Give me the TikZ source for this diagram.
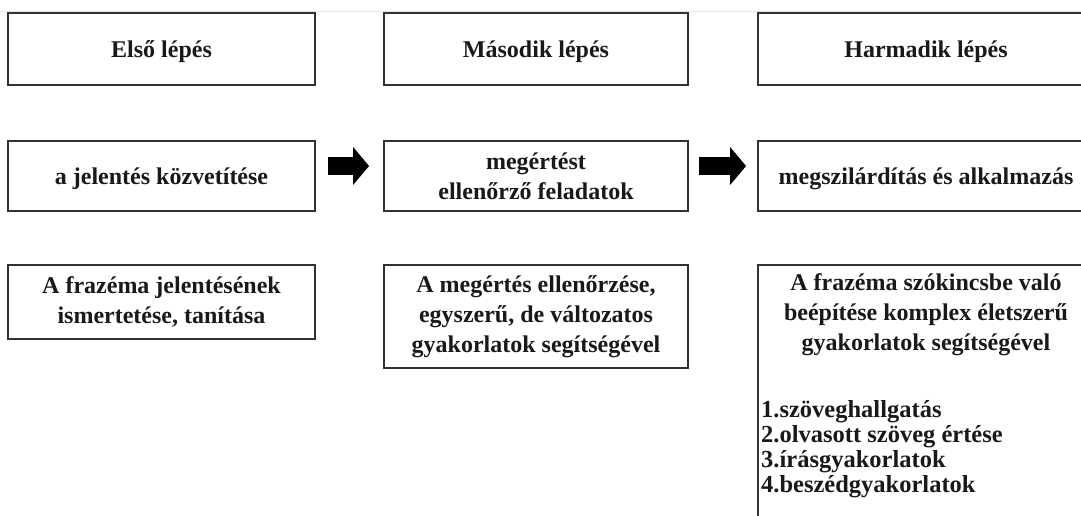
\documentclass[tikz,border=0pt]{standalone}
\usepackage{fontspec}
\setmainfont{Liberation Serif}
\usetikzlibrary{arrows.meta}

\begin{document}
\begin{tikzpicture}[x=1pt, y=-1pt,
    box/.style={draw=black!80, line width=1.8pt, align=center, inner xsep=6pt, inner ysep=6pt,
        text=black!90, font=\bfseries\fontsize{24}{30}\selectfont},
    item/.style={inner sep=0pt, text=black!90, font=\bfseries\fontsize{24.5}{25}\selectfont},
    blockarrow/.style={line width=18pt, -{Triangle[length=16pt, width=37pt]}}]
    \clip (0,0) rectangle (1081,516);
    \fill[white] (0,0) rectangle (1081,516);
    \draw[black!10, line width=1pt] (0,12) -- (1081,12);

    % steps
    \node[box, minimum width=307, minimum height=72, text depth=0pt] (s1) at (161.5,49) {Első lépés};
    \node[box, minimum width=304, minimum height=72, text depth=0pt] (s2) at (536,49) {Második lépés};
    \node[box, minimum width=336, minimum height=72, text depth=0pt] (s3) at (926,49) {Harmadik lépés};

    % what happens in each step
    \node[box, minimum width=307, minimum height=70, text depth=0pt] (m1) at (161.5,176) {a jelentés közvetítése};
    \node[box, minimum width=304, minimum height=70] (m2) at (536,176) {megértést\\ellenőrző feladatok};
    \node[box, minimum width=336, minimum height=70, text depth=0pt] (m3) at (926,176) {megszilárdítás és alkalmazás};

    \draw[blockarrow] ([xshift=12pt, yshift=10pt]m1.east) -- ([xshift=-14pt, yshift=10pt]m2.west);
    \draw[blockarrow] ([xshift=10pt, yshift=10pt]m2.east) -- ([xshift=-11pt, yshift=10pt]m3.west);

    % details
    \node[box, anchor=north, minimum width=307, minimum height=74] (d1) at (161.5,264)
        {A frazéma jelentésének\\ismertetése, tanítása};
    \node[box, anchor=north, minimum width=304, minimum height=103] (d2) at (536,264)
        {A megértés ellenőrzése,\\egyszerű, de változatos\\gyakorlatok segítségével};
    \node[box, anchor=north, minimum width=336, minimum height=300] (d3) at (926,264) {};
    \node[box, draw=none, anchor=north] (d3head) at (926,267)
        {A frazéma szókincsbe való\\beépítése komplex életszerű\\gyakorlatok segítségével};

    \foreach \txt [count=\i from 0] in {1.szöveghallgatás, 2.olvasott szöveg értése,
        3.írásgyakorlatok, 4.beszédgyakorlatok}
        \node[item, anchor=base west] (li\i) at (761,{417+25.3*\i}) {\txt};
\end{tikzpicture}
\end{document}
